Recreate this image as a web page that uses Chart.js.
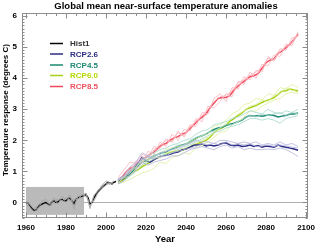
<!DOCTYPE html>
<html>
<head>
<meta charset="utf-8">
<script src="https://cdn.jsdelivr.net/npm/chart.js@4/dist/chart.umd.min.js"></script>
<style>
  html, body { margin: 0; padding: 0; background: #fff; }
  #wrap { width: 320px; height: 244px; position: relative; }
</style>
</head>
<body>
<div id="wrap"><canvas id="chart"></canvas></div>
<script>
// axis ticks
const xTicks = [1960, 1980, 2000, 2020, 2040, 2060, 2080, 2100];
const yTicks = [0, 1, 2, 3, 4, 5, 6];
const baseBox = { x: [1960, 1989], y: [-0.4, 0.5] };

// historical run, yearly 1960-2005
const histMean = [0.0, -0.02, -0.1, -0.2, -0.25, -0.24, -0.15, -0.08, -0.05, -0.02,
  0.0, -0.05, -0.08, 0.02, 0.06, 0.0, 0.02, 0.08, 0.1, 0.06,
  0.05, 0.12, 0.14, 0.05, -0.05, 0.1, 0.15, 0.18, 0.2, 0.22,
  0.25, 0.15, -0.05, 0.0, 0.15, 0.27, 0.35, 0.42, 0.5, 0.55,
  0.6, 0.65, 0.63, 0.6, 0.65, 0.68];
// historical members, every 2 years 1960-2004
const histM1 = [0.02, -0.05, -0.2, -0.1, 0.05, 0.1, -0.05, 0.15, 0.05, 0.2, 0.1, 0.25, -0.22, 0.2, 0.15, 0.3, -0.15, 0.2, 0.4, 0.55, 0.7, 0.6, 0.68];
const histM2 = [-0.05, -0.15, -0.3, -0.2, -0.1, -0.05, -0.12, 0.0, 0.1, 0.05, 0.15, 0.05, 0.1, 0.1, 0.25, 0.2, 0.0, 0.05, 0.3, 0.45, 0.55, 0.65, 0.6];
const histM3 = [0.0, -0.08, -0.22, -0.18, 0.0, 0.05, -0.1, 0.1, -0.05, 0.15, 0.0, 0.2, -0.1, 0.2, 0.25, 0.3, -0.2, 0.25, 0.35, 0.5, 0.62, 0.58, 0.7];

// scenario means, every 2 years 2006-2096
const rcp26Mean = [0.7, 0.75, 0.85, 1.0, 1.1, 1.25, 1.45, 1.35, 1.3, 1.38, 1.45, 1.5, 1.52, 1.55, 1.6, 1.62, 1.7, 1.72, 1.78, 1.85, 1.85, 1.88, 1.82,
  1.85, 1.82, 1.85, 1.9, 1.92, 1.85, 1.83, 1.85, 1.8, 1.82, 1.85, 1.8, 1.83, 1.78, 1.82, 1.8, 1.78, 1.85, 1.8, 1.78, 1.75, 1.72, 1.68];
const rcp45Mean = [0.68, 0.75, 0.82, 0.92, 1.05, 1.18, 1.3, 1.35, 1.42, 1.5, 1.55, 1.6, 1.62, 1.7, 1.75, 1.8, 1.85, 1.88, 1.95, 2.02, 2.1, 2.15, 2.2,
  2.28, 2.35, 2.4, 2.42, 2.48, 2.52, 2.55, 2.6, 2.65, 2.75, 2.8, 2.78, 2.8, 2.78, 2.8, 2.82, 2.8, 2.75, 2.78, 2.8, 2.85, 2.85, 2.88];
const rcp60Mean = [0.65, 0.7, 0.8, 0.9, 1.0, 1.05, 1.15, 1.22, 1.3, 1.38, 1.45, 1.5, 1.55, 1.6, 1.65, 1.65, 1.68, 1.72, 1.78, 1.85, 1.9, 1.95, 2.0,
  2.1, 2.25, 2.35, 2.4, 2.48, 2.62, 2.7, 2.8, 2.88, 3.0, 3.05, 3.1, 3.15, 3.22, 3.28, 3.32, 3.38, 3.48, 3.58, 3.6, 3.65, 3.62, 3.58];
const rcp85Mean = [0.72, 0.82, 0.98, 1.1, 1.15, 1.3, 1.38, 1.45, 1.55, 1.62, 1.75, 1.85, 1.9, 2.0, 2.08, 2.12, 2.2, 2.25, 2.38, 2.5, 2.65, 2.75, 2.85,
  3.05, 3.2, 3.35, 3.38, 3.38, 3.45, 3.62, 3.75, 3.85, 3.95, 4.05, 4.08, 4.15, 4.32, 4.5, 4.58, 4.62, 4.8, 4.88, 4.98, 5.1, 5.25, 5.42];

// scenario members, every 3 years 2006-2096
const rcp26M1 = [0.75, 0.9, 1.15, 1.3, 1.6, 1.5, 1.45, 1.6, 1.65, 1.7, 1.75, 1.85, 1.9, 2.0, 1.95, 1.95, 1.9, 2.0, 2.0, 1.95, 1.9, 1.95, 1.9, 1.95, 1.85, 1.9, 1.85, 1.95, 1.85, 1.9, 1.8];
const rcp26M2 = [0.6, 0.7, 0.9, 1.05, 1.3, 1.2, 1.3, 1.35, 1.4, 1.5, 1.5, 1.6, 1.7, 1.75, 1.8, 1.75, 1.7, 1.8, 1.85, 1.75, 1.8, 1.7, 1.75, 1.7, 1.7, 1.72, 1.7, 1.75, 1.7, 1.6, 1.48];
const rcp26M3 = [0.7, 0.85, 1.0, 1.25, 1.4, 1.45, 1.4, 1.5, 1.5, 1.6, 1.65, 1.7, 1.75, 1.8, 1.9, 1.85, 1.9, 1.85, 1.95, 1.85, 1.9, 1.85, 1.9, 1.8, 1.82, 1.85, 1.8, 1.85, 1.82, 1.78, 1.75];
const rcp45M1 = [0.7, 0.85, 1.05, 1.2, 1.35, 1.5, 1.6, 1.7, 1.75, 1.85, 1.9, 2.0, 2.05, 2.2, 2.3, 2.35, 2.5, 2.55, 2.6, 2.7, 2.75, 2.85, 2.95, 2.9, 2.85, 3.0, 2.9, 2.85, 2.95, 2.9, 3.0];
const rcp45M2 = [0.6, 0.7, 0.85, 1.0, 1.2, 1.3, 1.4, 1.5, 1.55, 1.6, 1.7, 1.8, 1.85, 1.95, 2.05, 2.15, 2.25, 2.3, 2.4, 2.45, 2.5, 2.6, 2.7, 2.7, 2.65, 2.7, 2.65, 2.55, 2.7, 2.75, 2.8];
const rcp45M3 = [0.75, 0.8, 0.95, 1.15, 1.4, 1.35, 1.55, 1.55, 1.65, 1.75, 1.85, 1.85, 2.0, 2.1, 2.15, 2.25, 2.3, 2.4, 2.5, 2.5, 2.6, 2.7, 2.8, 2.75, 2.85, 2.8, 2.85, 2.9, 2.8, 2.9, 2.85];
const rcp60M1 = [0.6, 0.65, 0.75, 0.85, 0.95, 1.0, 1.1, 1.3, 1.25, 1.45, 1.5, 1.6, 1.55, 1.75, 1.85, 1.95, 2.1, 2.25, 2.3, 2.5, 2.6, 2.75, 2.95, 2.95, 3.1, 3.2, 3.3, 3.35, 3.5, 3.55, 3.5];
const rcp60M2 = [0.7, 0.85, 1.0, 1.15, 1.3, 1.4, 1.5, 1.6, 1.7, 1.75, 1.8, 1.85, 1.95, 2.05, 2.15, 2.2, 2.45, 2.5, 2.65, 2.85, 2.95, 3.15, 3.2, 3.35, 3.3, 3.5, 3.45, 3.7, 3.65, 3.8, 3.7];
const rcp60M3 = [0.65, 0.8, 0.85, 1.1, 1.2, 1.35, 1.45, 1.45, 1.6, 1.65, 1.7, 1.75, 1.85, 1.9, 2.0, 2.1, 2.25, 2.4, 2.55, 2.7, 2.85, 2.95, 3.1, 3.15, 3.3, 3.25, 3.45, 3.5, 3.7, 3.6, 3.65];
const rcp85M1 = [0.8, 1.05, 1.3, 1.25, 1.55, 1.45, 1.8, 1.75, 2.05, 1.95, 2.25, 2.15, 2.5, 2.45, 2.9, 2.85, 3.35, 3.5, 3.25, 3.7, 3.65, 4.05, 3.95, 4.25, 4.2, 4.7, 4.55, 4.95, 4.9, 5.3, 5.35];
const rcp85M2 = [0.6, 0.85, 0.95, 1.35, 1.25, 1.65, 1.55, 1.95, 1.8, 2.2, 2.0, 2.35, 2.3, 2.7, 2.6, 3.1, 3.05, 3.25, 3.5, 3.4, 3.9, 3.8, 4.2, 4.0, 4.45, 4.4, 4.75, 4.7, 5.1, 5.05, 5.5];
const rcp85M3 = [0.75, 0.8, 1.15, 1.1, 1.45, 1.35, 1.7, 1.85, 2.0, 1.95, 2.3, 2.1, 2.45, 2.6, 2.8, 3.0, 3.25, 3.4, 3.45, 3.6, 3.85, 3.95, 4.1, 4.2, 4.35, 4.65, 4.6, 4.85, 5.05, 5.15, 5.45];

const seriesNames = ['Hist1', 'RCP2.6', 'RCP4.5', 'RCP6.0', 'RCP8.5'];
const meanColors = ['#000000', '#2a2c86', '#1c8a72', '#a8d016', '#f2485a'];
const memberColors = ['#a6a6a6', '#b4b4dc', '#a6d8cb', '#dcef9e', '#f9b4bc'];
const labelColors = ['#333333', '#2a2c86', '#1c8a72', '#b4d800', '#f2505e'];

const FONT = '"Liberation Sans", Arial, Helvetica, sans-serif';

function years(start, step, n) {
  const out = [];
  for (let i = 0; i < n; i++) out.push(start + i * step);
  return out;
}
function pts(startYear, step, vals) {
  const ys = years(startYear, step, vals.length);
  return vals.map((v, i) => ({ x: ys[i], y: v }));
}

function line(data, color, width) {
  return { data, borderColor: color, borderWidth: width, pointRadius: 0, fill: false, tension: 0 };
}

const members = [
  [histM1, histM2, histM3].map(v => pts(1960, 2, v)),
  [rcp26M1, rcp26M2, rcp26M3].map(v => pts(2006, 3, v)),
  [rcp45M1, rcp45M2, rcp45M3].map(v => pts(2006, 3, v)),
  [rcp60M1, rcp60M2, rcp60M3].map(v => pts(2006, 3, v)),
  [rcp85M1, rcp85M2, rcp85M3].map(v => pts(2006, 3, v))
];
const means = [
  pts(1960, 1, histMean),
  pts(2006, 2, rcp26Mean),
  pts(2006, 2, rcp45Mean),
  pts(2006, 2, rcp60Mean),
  pts(2006, 2, rcp85Mean)
];

const datasets = [];
members.forEach((group, i) => group.forEach(d => datasets.push(line(d, memberColors[i], 0.8))));
means.forEach((d, i) => datasets.push(line(d, meanColors[i], 1.5)));

const decor = {
  id: 'decor',
  beforeDatasetsDraw(chart) {
    const { ctx, chartArea: a, scales: { x, y } } = chart;
    ctx.save();
    const y0 = Math.round(y.getPixelForValue(0)) + 0.5;
    ctx.strokeStyle = '#b0b0b0';
    ctx.lineWidth = 1;
    ctx.beginPath();
    ctx.moveTo(a.left, y0);
    ctx.lineTo(a.right, y0);
    ctx.stroke();
    ctx.fillStyle = '#bababa';
    const bx0 = x.getPixelForValue(baseBox.x[0]), bx1 = x.getPixelForValue(baseBox.x[1]);
    const by0 = y.getPixelForValue(baseBox.y[1]), by1 = y.getPixelForValue(baseBox.y[0]);
    ctx.fillRect(bx0, by0, bx1 - bx0, by1 - by0);
    ctx.restore();
  },
  afterDatasetsDraw(chart) {
    const { ctx, chartArea: a, scales: { x, y } } = chart;
    ctx.save();
    ctx.strokeStyle = '#8c8c8c';
    ctx.lineWidth = 1;
    const L = Math.round(a.left) + 0.5, R = Math.round(a.right) - 0.5;
    const T = Math.round(a.top) + 0.5, B = Math.round(a.bottom) - 0.5;
    ctx.strokeRect(L, T, R - L, B - T);

    // inward ticks
    ctx.beginPath();
    for (let v = 1960; v <= 2100; v += 5) {
      const px = Math.round(x.getPixelForValue(v)) + 0.5;
      const len = v % 20 === 0 ? 5 : 2.5;
      ctx.moveTo(px, B); ctx.lineTo(px, B - len);
      ctx.moveTo(px, T); ctx.lineTo(px, T + len);
    }
    for (let k = -5; k <= 60; k++) {
      const v = k / 10;
      const py = Math.round(y.getPixelForValue(v)) + 0.5;
      const len = k % 10 === 0 ? 5 : 2;
      ctx.moveTo(L, py); ctx.lineTo(L + len, py);
      ctx.moveTo(R, py); ctx.lineTo(R - len, py);
    }
    ctx.stroke();

    // legend
    const legY = [43.5, 54, 65, 75.5, 86.5];
    ctx.font = 'bold 8px ' + FONT;
    ctx.textBaseline = 'middle';
    ctx.textAlign = 'left';
    seriesNames.forEach((name, i) => {
      ctx.strokeStyle = meanColors[i];
      ctx.lineWidth = 1.5;
      ctx.beginPath();
      ctx.moveTo(50, legY[i]);
      ctx.lineTo(63, legY[i]);
      ctx.stroke();
      ctx.fillStyle = labelColors[i];
      ctx.fillText(name, 70, legY[i] + 0.5);
    });

    // titles
    ctx.fillStyle = '#000';
    ctx.textAlign = 'center';
    ctx.font = 'bold 9.5px ' + FONT;
    ctx.fillText('Global mean near-surface temperature anomalies', 166, 6.5);
    ctx.font = 'bold 9.5px ' + FONT;
    ctx.fillText('Year', (a.left + a.right) / 2, 239.5);
    ctx.translate(5.5, 110);
    ctx.rotate(-Math.PI / 2);
    ctx.font = 'bold 8px ' + FONT;
    ctx.fillText('Temperature response (degrees C)', 0, 0);
    ctx.restore();
  }
};

new Chart(document.getElementById('chart'), {
  type: 'line',
  data: { datasets },
  options: {
    responsive: true,
    maintainAspectRatio: false,
    animation: false,
    layout: { padding: { top: 13, right: 8, left: 0, bottom: 0 } },
    plugins: { legend: { display: false }, title: { display: false }, tooltip: { enabled: false } },
    scales: {
      x: {
        type: 'linear',
        min: 1958,
        max: 2101,
        grid: { display: false, drawTicks: false },
        border: { display: false },
        afterBuildTicks: s => { s.ticks = xTicks.map(v => ({ value: v })); },
        afterFit: s => { s.height = 26; },
        ticks: { padding: 5, color: '#000', maxRotation: 0, autoSkip: false,
          font: { family: FONT, size: 8, weight: 'bold' }, callback: v => String(v) }
      },
      y: {
        min: -0.5,
        max: 6.1,
        grid: { display: false, drawTicks: false },
        border: { display: false },
        afterBuildTicks: s => { s.ticks = yTicks.map(v => ({ value: v })); },
        afterFit: s => { s.width = 22; },
        ticks: { padding: 5, color: '#000',
          font: { family: FONT, size: 8, weight: 'bold' }, callback: v => String(v) }
      }
    }
  },
  plugins: [decor]
});
</script>
</body>
</html>
